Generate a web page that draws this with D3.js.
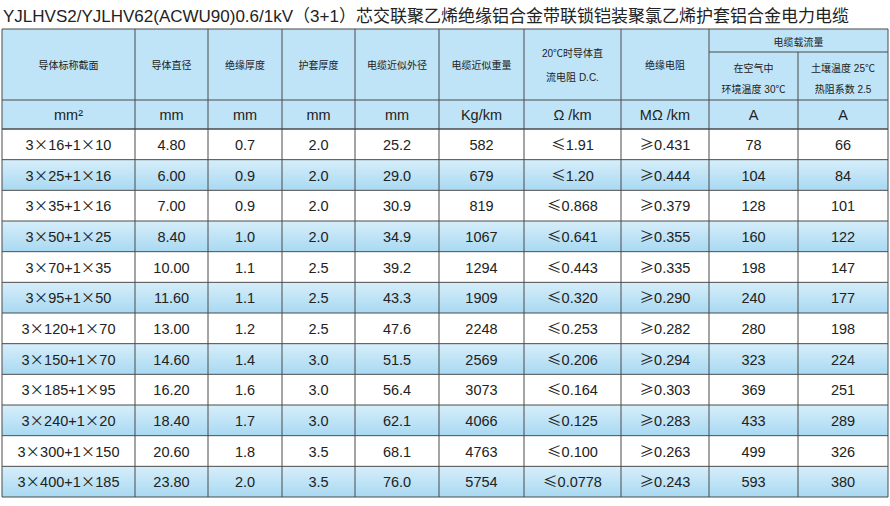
<!DOCTYPE html>
<html><head><meta charset="utf-8">
<script src="https://cdn.jsdelivr.net/npm/d3@7"></script>
<style>body{margin:0;background:#fff}</style></head><body>
<svg id="c" width="890" height="506"></svg>
<script>
const title = "YJLHVS2/YJLHV62(ACWU90)0.6/1kV（3+1）芯交联聚乙烯绝缘铝合金带联锁铠装聚氯乙烯护套铝合金电力电缆";
const headers = ["导体标称截面","导体直径","绝缘厚度","护套厚度","电缆近似外径","电缆近似重量",["20℃时导体直","流电阻 D.C."],"绝缘电阻"];
const groupHeader = "电缆载流量";
const subHeaders = [["在空气中","环境温度 30℃"],["土壤温度 25℃","热阻系数 2.5"]];
const units = ["mm²","mm","mm","mm","mm","Kg/km","Ω /km","MΩ /km","A","A"];
const sections = ["3×16+1×10","3×25+1×16","3×35+1×16","3×50+1×25","3×70+1×35","3×95+1×50","3×120+1×70","3×150+1×70","3×185+1×95","3×240+1×20","3×300+1×150","3×400+1×185"];
const diameter = ["4.80","6.00","7.00","8.40","10.00","11.60","13.00","14.60","16.20","18.40","20.60","23.80"];
const insul = ["0.7","0.9","0.9","1.0","1.1","1.1","1.2","1.4","1.6","1.7","1.8","2.0"];
const sheath = ["2.0","2.0","2.0","2.0","2.5","2.5","2.5","3.0","3.0","3.0","3.5","3.5"];
const outerD = ["25.2","29.0","30.9","34.9","39.2","43.3","47.6","51.5","56.4","62.1","68.1","76.0"];
const weight = ["582","679","819","1067","1294","1909","2248","2569","3073","4066","4763","5754"];
const dcRes = ["≤1.91","≤1.20","≤0.868","≤0.641","≤0.443","≤0.320","≤0.253","≤0.206","≤0.164","≤0.125","≤0.100","≤0.0778"];
const insRes = ["≥0.431","≥0.444","≥0.379","≥0.355","≥0.335","≥0.290","≥0.282","≥0.294","≥0.303","≥0.283","≥0.263","≥0.243"];
const ampAir = ["78","104","128","160","198","240","280","323","369","433","499","593"];
const ampSoil = ["66","84","101","122","147","177","198","224","251","289","326","380"];

const cols = [sections,diameter,insul,sheath,outerD,weight,dcRes,insRes,ampAir,ampSoil];
const rows = sections.map((_,i)=>cols.map(c=>c[i]));
const edges = [2,135,208,282,355,439,524,621,709,798,888];
const svg = d3.select("#c");
const F = "'Liberation Sans','Noto Sans CJK SC',Arial,sans-serif";
const CJK = "'Noto Sans CJK SC',sans-serif";
const blue = "#bfe4f7", line="#4a4a4a";
svg.append("text").attr("x",3).attr("y",22).attr("font-family",F).attr("font-size",17).attr("fill","#222").text(title);
const y = d3.scaleBand().domain(d3.range(rows.length)).range([129,497]);
const defs = svg.append("defs");
const g = defs.append("linearGradient").attr("id","gr").attr("x1",0).attr("x2",0).attr("y1",0).attr("y2",1);
g.append("stop").attr("offset","0").attr("stop-color","#d6eefa");
g.append("stop").attr("offset","1").attr("stop-color","#a9d9f2");
svg.append("rect").attr("x",2).attr("y",29).attr("width",886).attr("height",100).attr("fill",blue);
svg.selectAll(".rb").data(rows).join("rect").attr("x",2).attr("y",(d,i)=>y(i)).attr("width",886).attr("height",y.bandwidth())
  .attr("fill",(d,i)=>i%2?"url(#gr)":"#fff");
const L=(x1,y1,x2,y2)=>svg.append("line").attr("x1",x1).attr("y1",y1).attr("x2",x2).attr("y2",y2).attr("stroke",line).attr("stroke-width",1);
[29,100,129].forEach(v=>L(2,v,888,v));
d3.range(rows.length+1).forEach(i=>L(2,y(i)??497,888,y(i)??497));
L(709,52,888,52);
edges.forEach((e,i)=>L(e,(i==9)?52:29,e,497));
const T=(x,yy,s,fs,col)=>{
  const t=svg.append("text").attr("x",x).attr("y",yy).attr("text-anchor","middle").attr("font-family",F).attr("font-size",fs).attr("fill",col||"#222");
  s.split(/([×≤≥])/).filter(p=>p).forEach(p=>{const sp=t.append("tspan").text(p); if(/[×≤≥]/.test(p)) sp.attr("font-family",CJK);});
  return t;};
headers.forEach((h,i)=>{const cx=(edges[i]+edges[i+1])/2;
  if(Array.isArray(h)){T(cx,57,h[0],10);T(cx,81,h[1],10);} else T(cx,69,h,10);});
T((edges[8]+edges[10])/2,46,groupHeader,10);
subHeaders.forEach((h,k)=>{const cx=(edges[8+k]+edges[9+k])/2;T(cx,72,h[0],10);T(cx,93,h[1],10);});
units.forEach((u,i)=>T((edges[i]+edges[i+1])/2,120,u,14.5));
rows.forEach((r,ri)=>r.forEach((v,ci)=>T((edges[ci]+edges[ci+1])/2,y(ri)+y.bandwidth()/2+5.5,v,14.5)));
</script></body></html>
